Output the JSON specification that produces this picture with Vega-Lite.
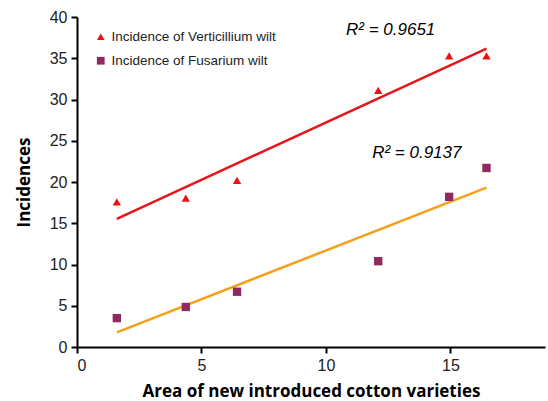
{
  "$schema": "https://vega.github.io/schema/vega-lite/v6.json",
  "width": 468,
  "height": 330,
  "autosize": "none",
  "padding": {"left": 77, "top": 17, "right": 3, "bottom": 54},
  "background": "white",
  "config": {
    "font": "Liberation Sans",
    "view": {"stroke": null},
    "axis": {
      "grid": false,
      "domainColor": "black",
      "domainWidth": 2,
      "tickColor": "black",
      "tickWidth": 2,
      "tickSize": 6,
      "labelFont": "Liberation Sans",
      "labelFontSize": 16,
      "labelColor": "#222222",
      "labelPadding": 4,
      "titleFont": "Open Sans",
      "titleFontSize": 17,
      "titleFontWeight": "bold",
      "titleColor": "black"
    }
  },
  "datasets": {
    "pts": [
      {"series": "Incidence of Verticillium wilt", "x": 1.6, "y": 17.6},
      {"series": "Incidence of Verticillium wilt", "x": 4.37, "y": 18.06},
      {"series": "Incidence of Verticillium wilt", "x": 6.43, "y": 20.2},
      {"series": "Incidence of Verticillium wilt", "x": 12.1, "y": 31.1},
      {"series": "Incidence of Verticillium wilt", "x": 14.95, "y": 35.3},
      {"series": "Incidence of Verticillium wilt", "x": 16.45, "y": 35.3},
      {"series": "Incidence of Fusarium wilt", "x": 1.6, "y": 3.5},
      {"series": "Incidence of Fusarium wilt", "x": 4.37, "y": 4.85},
      {"series": "Incidence of Fusarium wilt", "x": 6.43, "y": 6.7},
      {"series": "Incidence of Fusarium wilt", "x": 12.1, "y": 10.4},
      {"series": "Incidence of Fusarium wilt", "x": 14.95, "y": 18.2},
      {"series": "Incidence of Fusarium wilt", "x": 16.45, "y": 21.7}
    ],
    "notes": [
      {"label": "R² = 0.9651", "x": 12.6, "y": 38.4},
      {"label": "R² = 0.9137", "x": 13.65, "y": 23.5}
    ]
  },
  "layer": [
    {
      "data": {"name": "pts"},
      "transform": [{"regression": "y", "on": "x", "groupby": ["series"]}],
      "mark": {"type": "line", "strokeWidth": 2.5},
      "encoding": {
        "x": {"field": "x", "type": "quantitative", "scale": {"domain": [0, 18.8], "nice": false}},
        "y": {"field": "y", "type": "quantitative"},
        "color": {
          "field": "series",
          "type": "nominal",
          "scale": {"domain": ["Incidence of Verticillium wilt", "Incidence of Fusarium wilt"], "range": ["#E8141B", "#F6A01A"]},
          "legend": null
        }
      }
    },
    {
      "data": {"name": "pts"},
      "mark": {"type": "point", "filled": true, "opacity": 1, "size": 70},
      "encoding": {
        "x": {
          "field": "x",
          "type": "quantitative",
          "scale": {"domain": [0, 18.8], "nice": false},
          "axis": {"values": [0, 5, 10, 15], "title": "Area of new introduced cotton varieties", "titlePadding": 10}
        },
        "y": {
          "field": "y",
          "type": "quantitative",
          "scale": {"domain": [0, 40], "nice": false},
          "axis": {"values": [0, 5, 10, 15, 20, 25, 30, 35, 40], "title": "Incidences", "titlePadding": 16}
        },
        "shape": {
          "field": "series",
          "type": "nominal",
          "scale": {"domain": ["Incidence of Verticillium wilt", "Incidence of Fusarium wilt"], "range": ["triangle-up", "square"]},
          "legend": {
            "title": null,
            "orient": "none",
            "legendX": 17,
            "legendY": 13,
            "labelFont": "Liberation Sans",
            "labelFontSize": 13.5,
            "labelColor": "#222222",
            "labelLimit": 400,
            "rowPadding": 9,
            "symbolSize": 60
          }
        },
        "fill": {
          "field": "series",
          "type": "nominal",
          "scale": {"domain": ["Incidence of Verticillium wilt", "Incidence of Fusarium wilt"], "range": ["#EE1111", "#8E2A5E"]},
          "legend": {
            "title": null,
            "orient": "none",
            "legendX": 17,
            "legendY": 13,
            "labelFont": "Liberation Sans",
            "labelFontSize": 13.5,
            "labelColor": "#222222",
            "labelLimit": 400,
            "rowPadding": 9,
            "symbolSize": 60
          }
        }
      }
    },
    {
      "data": {"name": "notes"},
      "mark": {"type": "text", "fontStyle": "italic", "fontSize": 17, "font": "Liberation Sans", "color": "black"},
      "encoding": {
        "x": {"field": "x", "type": "quantitative"},
        "y": {"field": "y", "type": "quantitative"},
        "text": {"field": "label"}
      }
    }
  ],
  "resolve": {"scale": {"color": "independent"}}
}
